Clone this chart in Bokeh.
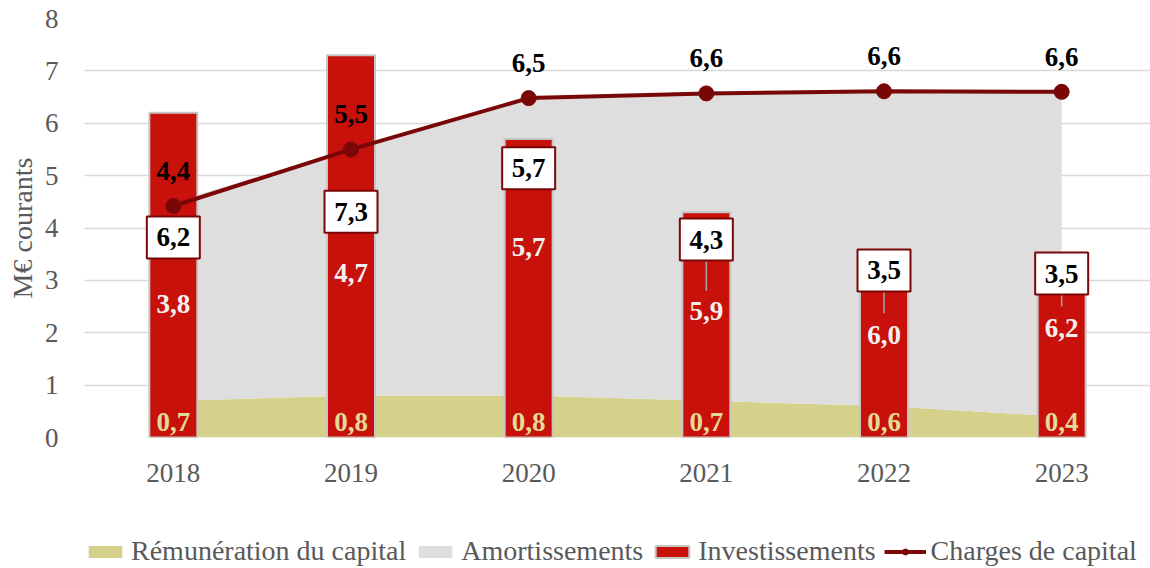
from bokeh.plotting import figure
from bokeh.layouts import column
from bokeh.models import FactorRange, FixedTicker, Legend, LegendItem, Range1d
from bokeh.embed import file_html
from bokeh.resources import INLINE
from bokeh.core.properties import value

# ---- data ----
years = ["2018", "2019", "2020", "2021", "2022", "2023"]
remuneration = [0.7, 0.8, 0.8, 0.7, 0.6, 0.4]
amortissements = [3.8, 4.7, 5.7, 5.9, 6.0, 6.2]
investissements = [6.2, 7.3, 5.7, 4.3, 3.5, 3.5]
charges = [4.42, 5.5, 6.48, 6.57, 6.61, 6.6]
y_ticks = [0, 1, 2, 3, 4, 5, 6, 7, 8]
series_names = ["Rémunération du capital", "Amortissements", "Investissements",
                "Charges de capital"]

# ---- label placement (annotation positions) ----
inv_box_y = [3.82, 4.31, 5.14, 3.78, 3.19, 3.13]
amort_label_y = [2.54, 3.15, 3.63, 2.41, 1.95, 2.10]
rem_label_y = [0.3] * 6
leader_years = years[3:]
leader_top = [3.38, 2.77, 2.73]
leader_bottom = [2.80, 2.37, 2.50]


def fmt(v):
    return f"{v:.1f}".replace(".", ",")


total = [r + a for r, a in zip(remuneration, amortissements)]

FONT = "Liberation Serif"
GREY_TXT = "#595959"
KHAKI = "#d5d08a"
AREA_GREY = "#dedede"
RED = "#c8110b"
DARK = "#7a0707"
BAR_EDGE = "#c6c6c6"

p = figure(width=1150, height=520, x_range=FactorRange(*years), y_range=(0, 8),
           output_backend="svg", toolbar_location=None,
           min_border_left=84, min_border_right=0, min_border_top=18, min_border_bottom=83)
p.outline_line_color = None
p.xgrid.grid_line_color = None
p.ygrid.grid_line_color = "#d9d9d9"
p.ygrid.grid_line_width = 1.5
p.yaxis.ticker = FixedTicker(ticks=y_ticks)

for ax in (p.xaxis, p.yaxis):
    ax.axis_line_color = None
    ax.major_tick_line_color = None
    ax.minor_tick_line_color = None
    ax.major_tick_out = 0
    ax.minor_tick_out = 0
    ax.major_label_text_font = FONT
    ax.major_label_text_color = GREY_TXT
    ax.major_label_text_font_size = "27px"

p.yaxis.major_label_standoff = 26
p.yaxis.axis_label = "M€ courants"
p.yaxis.axis_label_text_font = FONT
p.yaxis.axis_label_text_font_style = "normal"
p.yaxis.axis_label_text_font_size = "28px"
p.yaxis.axis_label_text_color = GREY_TXT
p.yaxis.axis_label_standoff = 4
p.xaxis.major_label_standoff = 26

p.varea(x=years, y1=[0] * 6, y2=remuneration, fill_color=KHAKI)
p.varea(x=years, y1=remuneration, y2=total, fill_color=AREA_GREY)
p.vbar(x=years, top=investissements, width=0.27, fill_color=RED,
       line_color=BAR_EDGE, line_width=2)
p.line(x=years, y=charges, line_color=DARK, line_width=4)
p.scatter(x=years, y=charges, size=15, fill_color=DARK, line_color=DARK)

# leader lines
p.segment(x0=leader_years, y0=leader_top, x1=leader_years, y1=leader_bottom,
          line_color="#a6a6a6", line_width=1.5)

# labels
common = dict(text_align="center", text_baseline="middle", text_font=value(FONT),
              text_font_style="bold", text_font_size="27px")
p.text(x=years, y=rem_label_y, text=[fmt(v) for v in remuneration],
       text_color="#e3da95", **common)
p.text(x=years, y=amort_label_y, text=[fmt(v) for v in amortissements],
       text_color="#f4f0f0", **common)
p.rect(x=years, y=inv_box_y, width=53, height=42, width_units="screen",
       height_units="screen", fill_color="white", line_color=DARK, line_width=2)
p.text(x=years, y=inv_box_y, text=[fmt(v) for v in investissements],
       text_color="black", **common)
p.text(x=years, y=charges, text=[fmt(v) for v in charges], y_offset=-35,
       text_color="black", **common)

# ---- legend strip below the chart: legend-only renderers (no visible marks) ----
nan = float("nan")
pl = figure(width=1150, height=48, x_range=FactorRange(*years), y_range=Range1d(0, 1),
            output_backend="svg", toolbar_location=None, min_border=0,
            x_axis_location=None, y_axis_location=None)
pl.outline_line_color = None
pl.grid.visible = False
l_rem = pl.varea(x=years[:1], y1=[nan], y2=[nan], fill_color=KHAKI)
l_am = pl.varea(x=years[:1], y1=[nan], y2=[nan], fill_color=AREA_GREY)
l_inv = pl.vbar(x=years[:1], top=[nan], bottom=[nan], width=0.27, fill_color=RED,
                line_color=BAR_EDGE, line_width=2)
l_line = pl.line(x=years[:1], y=[nan], line_color=DARK, line_width=4)
l_pts = pl.scatter(x=years[:1], y=[nan], size=15, fill_color=DARK, line_color=DARK)

legend = Legend(items=[
    LegendItem(label=series_names[0], renderers=[l_rem]),
    LegendItem(label=series_names[1], renderers=[l_am]),
    LegendItem(label=series_names[2], renderers=[l_inv]),
    LegendItem(label=series_names[3], renderers=[l_line, l_pts]),
], orientation="horizontal", location=(0, 1), border_line_color=None,
    background_fill_alpha=0, label_text_font=FONT, label_text_font_size="28px",
    label_text_color=GREY_TXT, glyph_width=42, glyph_height=15, spacing=8,
    label_standoff=5, padding=0, margin=0)
pl.add_layout(legend, "center")

layout = column(p, pl, spacing=0)
open("out.html", "w").write(file_html(layout, INLINE))
